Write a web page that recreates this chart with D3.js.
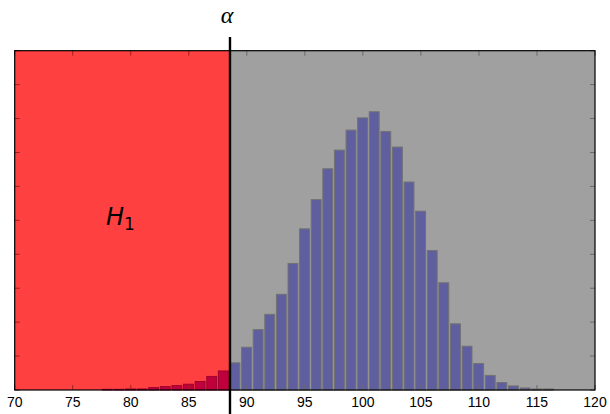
<!DOCTYPE html>
<html><head><meta charset="utf-8">
<script src="https://cdn.jsdelivr.net/npm/d3@7"></script>
<style>body{margin:0;background:#fff}svg{display:block}</style>
</head><body>
<script>
const binCenters = [78,79,80,81,82,83,84,85,86,87,88,89,90,91,92,93,94,95,96,97,98,99,100,101,102,103,104,105,106,107,108,109,110,111,112,113,114,115,116];
const probs = [0.0002,0.0002,0.0003,0.0003,0.0007,0.0010,0.0013,0.0017,0.0025,0.0040,0.0056,0.0080,0.0126,0.0178,0.0223,0.0282,0.0373,0.0475,0.0561,0.0652,0.0707,0.0766,0.0802,0.0820,0.0762,0.0716,0.0613,0.0527,0.0411,0.0316,0.0195,0.0129,0.0078,0.0043,0.0022,0.0012,0.0006,0.0003,0.0003];
const xTicks = [70,75,80,85,90,95,100,105,110,115,120];
const yTicks = [0,0.01,0.02,0.03,0.04,0.05,0.06,0.07,0.08,0.09,0.1];
const alphaValue = 88.55;
const xDomain = [70,120];
const yDomain = [0,0.1];

const W=610,H=414;
const L=14.7,R=595,T=50.7,B=390;
const svg=d3.select("body").append("svg").attr("width",W).attr("height",H);
const x=d3.scaleLinear().domain(xDomain).range([L,R]);
const y=d3.scaleLinear().domain(yDomain).range([B,T]);

// regions
svg.append("rect").attr("x",x(70)).attr("y",T).attr("width",x(alphaValue)-x(70)).attr("height",B-T).attr("fill","#ff4040");
svg.append("rect").attr("x",x(alphaValue)).attr("y",T).attr("width",x(120)-x(alphaValue)).attr("height",B-T).attr("fill","#a0a0a0");

const data=binCenters.map((c,i)=>({c,p:probs[i]}));
svg.append("g").selectAll("rect").data(data).join("rect")
  .attr("x",d=>x(d.c-0.45)).attr("width",d=>x(d.c+0.4)-x(d.c-0.45))
  .attr("y",d=>y(d.p)).attr("height",d=>y(0)-y(d.p))
  .attr("fill",d=>d.c<alphaValue?"#c0003c":"#5f5f9f")
  .attr("stroke",d=>d.c<alphaValue?"#a00030":"#727272").attr("stroke-width",1);

const tc=v=>v<alphaValue?"#a02020":"#6a6a6a";
const tl=5;
const tg=svg.append("g").attr("stroke-width",1);
xTicks.forEach(v=>{
  tg.append("line").attr("x1",x(v)).attr("x2",x(v)).attr("y1",B).attr("y2",B-tl).attr("stroke",tc(v));
  tg.append("line").attr("x1",x(v)).attr("x2",x(v)).attr("y1",T).attr("y2",T+tl).attr("stroke",tc(v));
});
yTicks.forEach(v=>{
  tg.append("line").attr("x1",L).attr("x2",L+tl).attr("y1",y(v)).attr("y2",y(v)).attr("stroke",tc(70));
  tg.append("line").attr("x1",R).attr("x2",R-tl).attr("y1",y(v)).attr("y2",y(v)).attr("stroke",tc(120));
});

// spines
svg.append("rect").attr("x",L).attr("y",T).attr("width",R-L).attr("height",B-T).attr("fill","none").attr("stroke","#000").attr("stroke-width",1.2);

// tick labels
svg.append("g").selectAll("text").data(xTicks).join("text")
  .attr("x",d=>x(d)).attr("y",407).attr("text-anchor","middle")
  .attr("font-family","Liberation Sans, Arial, sans-serif").attr("font-size",14).attr("fill","#000")
  .text(d=>d);

// alpha line
svg.append("line").attr("x1",x(alphaValue)).attr("x2",x(alphaValue)).attr("y1",37).attr("y2",H)
  .attr("stroke","#000").attr("stroke-width",2.4);
svg.append("text").attr("x",x(alphaValue)-3).attr("y",23).attr("text-anchor","middle")
  .attr("font-family","Liberation Serif, serif").attr("font-style","italic").attr("font-size",24)
  .text("α");

// H1 label
const h=svg.append("text").attr("x",106).attr("y",225)
  .attr("font-family","DejaVu Sans, sans-serif").attr("font-size",24).attr("fill","#000");
h.append("tspan").attr("font-style","italic").text("H");
h.append("tspan").attr("font-size",17).attr("dy",5).text("1");
</script>
</body></html>
